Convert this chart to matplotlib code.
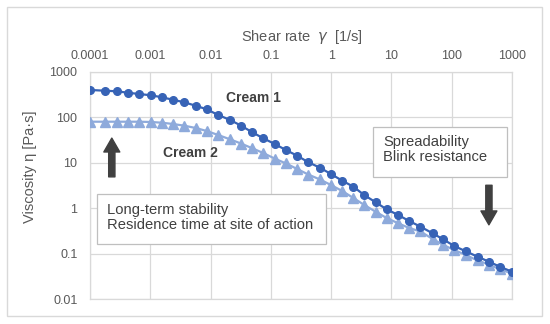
import matplotlib
matplotlib.use("Agg")
import matplotlib.pyplot as plt
from matplotlib.patches import Rectangle, FancyArrowPatch

# ---- data ----
shear_rate = [1.0e-4, 1.77e-4, 2.77e-4, 4.22e-4, 6.57e-4, 1.03e-3, 1.56e-3, 2.38e-3,
              3.66e-3, 5.66e-3, 8.61e-3, 0.0134, 0.0210, 0.0319, 0.0492, 0.0748,
              0.1156, 0.178, 0.274, 0.417, 0.652, 0.993, 1.53, 2.33, 3.54, 5.47,
              8.32, 12.97, 19.7, 30.3, 48.2, 72.3, 110, 172, 268, 414, 630, 1000]
cream1 = [402, 387, 376, 350, 327, 307, 277, 245, 215, 181, 151, 113, 88, 66, 47,
          34.7, 26, 19.1, 14.3, 10.3, 7.8, 5.66, 4.03, 2.98, 1.95, 1.35, 0.946,
          0.708, 0.522, 0.392, 0.280, 0.206, 0.147, 0.112, 0.0855, 0.0664, 0.0514, 0.0399]
cream2 = [80.4, 80.4, 80.4, 80.4, 80.4, 79.2, 76.4, 71.6, 65.7, 58.4, 50.2, 40.9,
          32.9, 26.6, 20.9, 16.4, 12.4, 9.66, 7.30, 5.52, 4.29, 3.24, 2.39, 1.68,
          1.18, 0.837, 0.608, 0.465, 0.366, 0.307, 0.210, 0.155, 0.120, 0.0931,
          0.0705, 0.0575, 0.0451, 0.0364]
x_ticks = [1e-4, 1e-3, 1e-2, 1e-1, 1, 10, 100, 1000]
x_tick_labels = ["0.0001", "0.001", "0.01", "0.1", "1", "10", "100", "1000"]
y_ticks = [0.01, 0.1, 1, 10, 100, 1000]
y_tick_labels = ["0.01", "0.1", "1", "10", "100", "1000"]

plt.rcParams['font.family'] = ['Liberation Sans', 'DejaVu Sans']
plt.rcParams['mathtext.fontset'] = 'dejavusans'

W, H = 550, 324
AX_L, AX_R, AX_T, AX_B = 90, 512, 72, 299
fig = plt.figure(figsize=(W / 100, H / 100), dpi=100)
ax = fig.add_axes([AX_L / W, 1 - AX_B / H, (AX_R - AX_L) / W, (AX_B - AX_T) / H])


def fx(px):
    return (px - AX_L) / (AX_R - AX_L)


def fy(py):
    return (AX_B - py) / (AX_B - AX_T)


# outer border
fig.patches.append(Rectangle((7 / W, 1 - 316 / H), (542 - 7) / W, (316 - 7) / H,
                             transform=fig.transFigure, fill=False,
                             edgecolor='#d9d9d9', linewidth=1.0))

c1 = '#3763b6'
c2 = '#8eaadb'
ax.plot(shear_rate, cream2, color=c2, marker='^', markersize=6.5, linewidth=1.6, zorder=3)
ax.plot(shear_rate, cream1, color=c1, marker='o', markersize=5.5, linewidth=1.6, zorder=4)

ax.set_xscale('log')
ax.set_yscale('log')
ax.set_xlim(1e-4, 1000)
ax.set_ylim(0.01, 1000)
ax.xaxis.set_major_locator(matplotlib.ticker.FixedLocator(x_ticks))
ax.yaxis.set_major_locator(matplotlib.ticker.FixedLocator(y_ticks))
ax.xaxis.set_minor_locator(matplotlib.ticker.NullLocator())
ax.yaxis.set_minor_locator(matplotlib.ticker.NullLocator())
ax.set_xticklabels(x_tick_labels)
ax.set_yticklabels(y_tick_labels)
ax.xaxis.tick_top()
ax.tick_params(axis='both', length=0, labelsize=9, labelcolor='#595959')
ax.tick_params(axis='x', pad=7)
ax.tick_params(axis='y', pad=9)
ax.grid(True, color='#d9d9d9', linewidth=0.9)
ax.set_axisbelow(True)
for s in ax.spines.values():
    s.set_color('#d9d9d9')
    s.set_linewidth(0.9)

ax.xaxis.set_label_position('top')
ax.set_xlabel(r'Shear rate  $\gamma$  [1/s]', fontsize=10.5, color='#595959',
              va='center', ha='center')
ax.xaxis.set_label_coords(fx(301.5), fy(37))
ax.set_ylabel('Viscosity η [Pa·s]', fontsize=10.5, color='#595959',
              va='center', ha='center')
ax.yaxis.set_label_coords(fx(30), fy(166.5))

# series labels
ax.text(0.018, 267, 'Cream 1', fontsize=10, fontweight='bold', color='#404040', va='center')
ax.text(0.00162, 16.4, 'Cream 2', fontsize=10, fontweight='bold', color='#404040', va='center')

# text boxes
for (l, r, t, b) in [(97, 326, 194, 244), (373, 507, 127, 177)]:
    ax.add_patch(Rectangle((fx(l), fy(b)), fx(r) - fx(l), fy(t) - fy(b),
                           transform=ax.transAxes, facecolor='white',
                           edgecolor='#bfbfbf', linewidth=0.9, zorder=5))
ax.text(fx(107), fy(217.5), 'Long-term stability\nResidence time at site of action',
        transform=ax.transAxes, fontsize=10.6, color='#404040', va='center', ha='left',
        linespacing=1.12, zorder=6)
ax.text(fx(383), fy(149.5), 'Spreadability\nBlink resistance',
        transform=ax.transAxes, fontsize=10.6, color='#404040', va='center', ha='left',
        linespacing=1.12, zorder=6)

arrow_style = 'simple,head_width=1.15,head_length=1.0,tail_width=0.45'
ax.add_patch(FancyArrowPatch((2.3e-4, 4.9), (2.3e-4, 35), arrowstyle=arrow_style,
                             mutation_scale=10, color='#404040', shrinkA=0, shrinkB=0,
                             zorder=6))
ax.add_patch(FancyArrowPatch((414, 3.2), (414, 0.43), arrowstyle=arrow_style,
                             mutation_scale=10, color='#404040', shrinkA=0, shrinkB=0,
                             zorder=6))

fig.savefig('out.png', dpi=100)
